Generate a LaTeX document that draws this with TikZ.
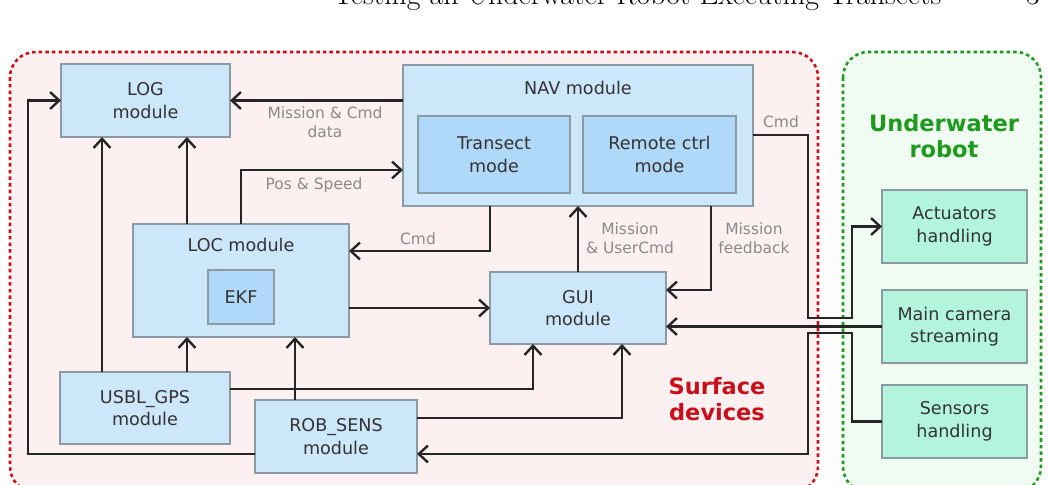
\documentclass[tikz,border=0pt]{standalone}
\usepackage{fontspec}
\usepackage{tikz}
\usetikzlibrary{arrows.meta, positioning, calc}
\newfontfamily\dejavu{DejaVu Sans}

\definecolor{modfill}{HTML}{CCE6FA}
\definecolor{subfill}{HTML}{B0D8F8}
\definecolor{robfill}{HTML}{B2F5DC}
\definecolor{boxline}{HTML}{8C9AA6}
\definecolor{surfred}{HTML}{C8101A}
\definecolor{surfbg}{HTML}{FDF0F0}
\definecolor{robgreen}{HTML}{1E9A1E}
\definecolor{robbg}{HTML}{F0FBF2}
\definecolor{lblgray}{HTML}{8A8A8A}

\tikzset{
    module/.style={draw=boxline, line width=0.8pt, fill=modfill, rectangle, align=center, inner sep=0pt, outer sep=0pt, font=\dejavu\fontsize{12.5}{16}\selectfont, text=black!80},
    submodule/.style={module, fill=subfill},
    robotbox/.style={module, fill=robfill},
    lbl/.style={font=\dejavu\fontsize{11}{13.5}\selectfont, text=lblgray, align=center, inner sep=0pt},
    grouplbl/.style={font=\dejavu\bfseries\fontsize{16}{19}\selectfont, align=center, inner sep=0pt},
    wire/.style={line width=2pt, black!85},
}

\begin{document}
\begin{tikzpicture}[x=0.025cm, y=-0.025cm, >={Straight Barb[length=6.5pt, width=12pt, line width=1.7pt]}]
    \useasboundingbox (0,0) rectangle (1048,485);

    % page header
    \node[anchor=base west, inner sep=0pt, font=\fontsize{21.2}{24}\selectfont] (header) at (333,5) {Testing an Underwater Robot Executing Transects};
    \node[anchor=base east, inner sep=0pt, font=\fontsize{21.2}{24}\selectfont] (pagenum) at (1040,5) {3};

    % the two areas
    \draw[surfred, fill=surfbg, line width=1.8pt, dash pattern=on 2.5pt off 2.2pt, rounded corners=18pt] (10,52) rectangle (818,492);
    \draw[robgreen, fill=robbg, line width=1.8pt, dash pattern=on 2.5pt off 2.2pt, rounded corners=18pt] (843,52) rectangle (1041,492);

    \node[grouplbl, text=surfred] (surflbl) at (717,399) {Surface\\devices};
    \node[grouplbl, text=robgreen] (roblbl) at (944,136) {Underwater\\robot};

    % surface modules
    \node[module, minimum width=4.225cm, minimum height=1.825cm] (log) at (145.5,100.5) {LOG\\module};
    \node[module, minimum width=8.75cm, minimum height=3.525cm] (nav) at (578,135.5) {};
    \node[lbl, text=black!80, font=\dejavu\fontsize{12.5}{16}\selectfont] (navtitle) at (578,88) {NAV module};
    \node[submodule, minimum width=3.8cm, minimum height=1.925cm] (transect) at (494,154.5) {Transect\\mode};
    \node[submodule, minimum width=3.825cm, minimum height=1.925cm] (remote) at (659.5,154.5) {Remote ctrl\\mode};

    \node[module, minimum width=5.4cm, minimum height=2.825cm] (loc) at (241,280.5) {};
    \node[lbl, text=black!80, font=\dejavu\fontsize{12.5}{16}\selectfont] (loctitle) at (241,245) {LOC module};
    \node[submodule, minimum width=1.65cm, minimum height=1.35cm] (ekf) at (241,297) {EKF};

    \node[module, minimum width=4.25cm, minimum height=1.8cm] (usbl) at (145,408) {USBL\_GPS\\module};
    \node[module, minimum width=4.05cm, minimum height=1.825cm] (rob) at (336,436.5) {ROB\_SENS\\module};
    \node[module, minimum width=4.4cm, minimum height=1.8cm] (gui) at (578,308) {GUI\\module};

    % robot side
    \node[robotbox, minimum width=3.625cm, minimum height=1.825cm] (act) at (954.5,226.5) {Actuators\\handling};
    \node[robotbox, minimum width=3.625cm, minimum height=1.825cm] (cam) at (954.5,326.5) {Main camera\\streaming};
    \node[robotbox, minimum width=3.625cm, minimum height=1.825cm] (sens) at (954.5,421.5) {Sensors\\handling};

    % connections
    \draw[wire, ->] (nav.west |- log.east) -- (log.east);
    \draw[wire, ->] (loc.north) |- (nav.west |- 0,170);
    \draw[wire, ->] (187,0 |- loc.north) -- (187,0 |- log.south);
    \draw[wire, ->] (102,0 |- usbl.north) -- (102,0 |- log.south);
    \draw[wire, ->] (rob.west |- 0,454) -| (28,0 |- log.west) -- (log.west);
    \draw[wire, ->] (187,0 |- usbl.north) -- (187,0 |- loc.south);
    \draw[wire, ->] (295,0 |- rob.north) -- (295,0 |- loc.south);
    \draw[wire, ->] (490,0 |- nav.south) |- (loc.east |- 0,251);
    \draw[wire, ->] (loc.east |- gui.west) -- (gui.west);
    \draw[wire, ->] (gui.north) -- (nav.south);
    \draw[wire, ->] (711,0 |- nav.south) |- (gui.east |- 0,290);
    \draw[wire, ->] (nav.east |- 0,135) -| (808,318) -| (852,0 |- act.west) -- (act.west);
    \draw[wire, ->] (cam.west) -- (gui.east |- cam.west);
    \draw[wire, ->] (sens.west) -| (852,333) -| (808,454) -- (rob.east |- 0,454);
    \draw[wire, ->] (usbl.east |- 0,389) -| (533,0 |- gui.south);
    \draw[wire, ->] (rob.east |- 0,418) -| (622,0 |- gui.south);

    % labels
    \node[lbl] (lblmission) at (325,122.5) {Mission \& Cmd\\data};
    \node[lbl] (lblpos) at (314,185) {Pos \& Speed};
    \node[lbl] (lblcmdloc) at (418,239) {Cmd};
    \node[lbl] (lbluser) at (630,238.5) {Mission\\\& UserCmd};
    \node[lbl] (lblfeed) at (754,238.5) {Mission\\feedback};
    \node[lbl] (lblcmdrob) at (781,122) {Cmd};
\end{tikzpicture}
\end{document}
